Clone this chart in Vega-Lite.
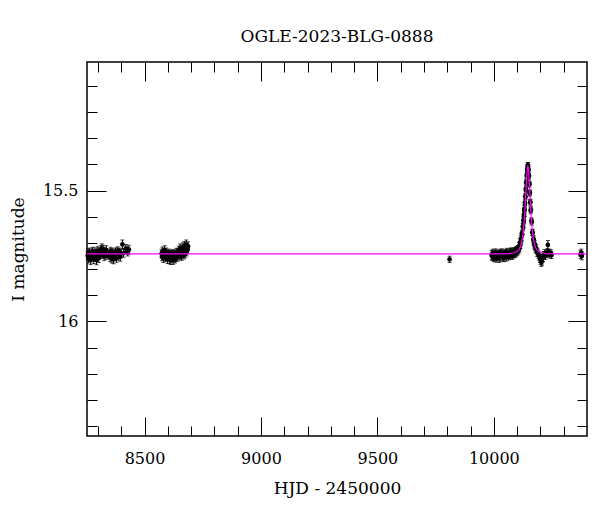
{
  "$schema": "https://vega.github.io/schema/vega-lite/v6.json",
  "width": 500,
  "height": 374,
  "autosize": {"type": "none"},
  "padding": {"left": 87, "top": 62, "right": 13, "bottom": 76},
  "background": "white",
  "title": {"text": "OGLE-2023-BLG-0888", "font": "DejaVu Serif", "fontSize": 17, "fontWeight": "normal", "color": "black", "anchor": "middle", "baseline": "alphabetic", "offset": 3},
  "config": {
    "view": {"stroke": "black", "strokeWidth": 1.5},
    "axis": {"grid": false, "domain": false, "labelFont": "DejaVu Serif", "titleFont": "DejaVu Serif", "labelColor": "black", "titleColor": "black", "tickColor": "black", "tickWidth": 1, "labelFontSize": 16, "titleFontSize": 17, "titleFontWeight": "normal"}
  },
  "datasets": {
    "obs": [
      {"t":8256,"m":15.749,"e":0.016},{"t":8258,"m":15.739,"e":0.015},{"t":8260,"m":15.760,"e":0.017},{"t":8262,"m":15.735,"e":0.015},{"t":8265,"m":15.753,"e":0.016},{"t":8267,"m":15.744,"e":0.015},{"t":8269,"m":15.765,"e":0.018},{"t":8272,"m":15.738,"e":0.015},{"t":8274,"m":15.756,"e":0.016},{"t":8277,"m":15.732,"e":0.015},{"t":8279,"m":15.751,"e":0.016},{"t":8282,"m":15.762,"e":0.017},{"t":8284,"m":15.742,"e":0.015},{"t":8287,"m":15.735,"e":0.016},{"t":8289,"m":15.755,"e":0.016},{"t":8292,"m":15.746,"e":0.015},{"t":8294,"m":15.766,"e":0.018},{"t":8297,"m":15.739,"e":0.015},{"t":8299,"m":15.731,"e":0.016},{"t":8302,"m":15.749,"e":0.015},{"t":8304,"m":15.758,"e":0.017},{"t":8307,"m":15.734,"e":0.015},{"t":8309,"m":15.745,"e":0.016},{"t":8312,"m":15.727,"e":0.016},{"t":8314,"m":15.742,"e":0.015},{"t":8317,"m":15.721,"e":0.017},{"t":8319,"m":15.737,"e":0.015},{"t":8322,"m":15.725,"e":0.016},{"t":8324,"m":15.745,"e":0.015},{"t":8327,"m":15.752,"e":0.016},{"t":8330,"m":15.732,"e":0.015},{"t":8333,"m":15.741,"e":0.016},{"t":8336,"m":15.728,"e":0.017},{"t":8339,"m":15.748,"e":0.015},
      {"t":8350,"m":15.739,"e":0.016},{"t":8352,"m":15.756,"e":0.016},{"t":8355,"m":15.732,"e":0.015},{"t":8357,"m":15.749,"e":0.016},{"t":8360,"m":15.760,"e":0.017},{"t":8362,"m":15.737,"e":0.015},{"t":8365,"m":15.745,"e":0.016},{"t":8367,"m":15.763,"e":0.017},{"t":8370,"m":15.741,"e":0.015},{"t":8372,"m":15.752,"e":0.016},{"t":8375,"m":15.734,"e":0.015},{"t":8377,"m":15.748,"e":0.016},{"t":8380,"m":15.758,"e":0.016},{"t":8382,"m":15.738,"e":0.015},{"t":8385,"m":15.731,"e":0.016},{"t":8387,"m":15.751,"e":0.015},{"t":8390,"m":15.744,"e":0.016},{"t":8393,"m":15.735,"e":0.015},{"t":8396,"m":15.753,"e":0.017},{"t":8399,"m":15.741,"e":0.016},{"t":8405,"m":15.706,"e":0.017},{"t":8410,"m":15.739,"e":0.016},{"t":8420,"m":15.722,"e":0.016},{"t":8424,"m":15.728,"e":0.015},{"t":8428,"m":15.734,"e":0.016},{"t":8433,"m":15.726,"e":0.017},
      {"t":8573,"m":15.741,"e":0.017},{"t":8575,"m":15.752,"e":0.016},{"t":8577,"m":15.732,"e":0.016},{"t":8579,"m":15.748,"e":0.017},{"t":8581,"m":15.759,"e":0.016},{"t":8583,"m":15.738,"e":0.015},{"t":8585,"m":15.749,"e":0.016},{"t":8587,"m":15.728,"e":0.017},{"t":8589,"m":15.745,"e":0.016},{"t":8591,"m":15.755,"e":0.016},{"t":8593,"m":15.735,"e":0.015},{"t":8595,"m":15.751,"e":0.016},{"t":8597,"m":15.742,"e":0.015},{"t":8599,"m":15.762,"e":0.017},{"t":8601,"m":15.746,"e":0.016},{"t":8603,"m":15.755,"e":0.016},{"t":8605,"m":15.739,"e":0.015},{"t":8607,"m":15.763,"e":0.017},{"t":8609,"m":15.751,"e":0.016},{"t":8611,"m":15.744,"e":0.015},{"t":8613,"m":15.766,"e":0.017},{"t":8615,"m":15.753,"e":0.016},{"t":8617,"m":15.746,"e":0.016},{"t":8619,"m":15.759,"e":0.015},{"t":8621,"m":15.741,"e":0.016},{"t":8623,"m":15.765,"e":0.017},{"t":8625,"m":15.749,"e":0.016},{"t":8627,"m":15.756,"e":0.016},{"t":8629,"m":15.744,"e":0.015},{"t":8631,"m":15.760,"e":0.017},{"t":8633,"m":15.748,"e":0.016},{"t":8635,"m":15.738,"e":0.015},{"t":8637,"m":15.755,"e":0.016},{"t":8639,"m":15.745,"e":0.016},{"t":8641,"m":15.735,"e":0.015},{"t":8643,"m":15.752,"e":0.017},{"t":8645,"m":15.741,"e":0.016},{"t":8647,"m":15.728,"e":0.016},{"t":8649,"m":15.748,"e":0.015},{"t":8651,"m":15.737,"e":0.016},{"t":8653,"m":15.721,"e":0.017},{"t":8655,"m":15.744,"e":0.016},{"t":8657,"m":15.732,"e":0.015},{"t":8659,"m":15.751,"e":0.016},{"t":8661,"m":15.725,"e":0.017},{"t":8663,"m":15.739,"e":0.016},{"t":8665,"m":15.717,"e":0.017},{"t":8667,"m":15.735,"e":0.015},{"t":8669,"m":15.746,"e":0.016},{"t":8671,"m":15.713,"e":0.018},{"t":8673,"m":15.731,"e":0.016},{"t":8675,"m":15.742,"e":0.015},{"t":8677,"m":15.721,"e":0.017},{"t":8679,"m":15.707,"e":0.018},{"t":8681,"m":15.734,"e":0.016},{"t":8683,"m":15.718,"e":0.017},{"t":8685,"m":15.725,"e":0.016},{"t":8687,"m":15.713,"e":0.017},
      {"t":9810,"m":15.763,"e":0.012},
      {"t":9990,"m":15.746,"e":0.017},{"t":9993,"m":15.752,"e":0.016},{"t":9995,"m":15.740,"e":0.016},{"t":9998,"m":15.749,"e":0.017},{"t":10000,"m":15.756,"e":0.016},{"t":10003,"m":15.743,"e":0.015},{"t":10005,"m":15.751,"e":0.016},{"t":10008,"m":15.738,"e":0.015},{"t":10010,"m":15.757,"e":0.017},{"t":10013,"m":15.746,"e":0.016},{"t":10015,"m":15.753,"e":0.016},{"t":10018,"m":15.742,"e":0.015},{"t":10020,"m":15.750,"e":0.016},{"t":10023,"m":15.758,"e":0.017},{"t":10025,"m":15.744,"e":0.015},{"t":10028,"m":15.740,"e":0.016},{"t":10030,"m":15.754,"e":0.016},{"t":10033,"m":15.747,"e":0.015},{"t":10035,"m":15.739,"e":0.016},{"t":10038,"m":15.752,"e":0.017},{"t":10040,"m":15.745,"e":0.015},{"t":10043,"m":15.756,"e":0.016},{"t":10045,"m":15.741,"e":0.015},{"t":10048,"m":15.749,"e":0.016},{"t":10050,"m":15.743,"e":0.015},{"t":10053,"m":15.753,"e":0.017},{"t":10055,"m":15.737,"e":0.016},{"t":10058,"m":15.747,"e":0.015},{"t":10060,"m":15.741,"e":0.016},{"t":10063,"m":15.750,"e":0.016},{"t":10065,"m":15.744,"e":0.015},{"t":10068,"m":15.738,"e":0.016},{"t":10070,"m":15.748,"e":0.015},{"t":10073,"m":15.735,"e":0.016},{"t":10075,"m":15.744,"e":0.015},{"t":10078,"m":15.739,"e":0.016},{"t":10080,"m":15.747,"e":0.016},{"t":10083,"m":15.736,"e":0.015},{"t":10085,"m":15.742,"e":0.016},{"t":10088,"m":15.733,"e":0.015},{"t":10090,"m":15.740,"e":0.016},{"t":10093,"m":15.731,"e":0.015},{"t":10095,"m":15.737,"e":0.016},{"t":10098,"m":15.729,"e":0.015},{"t":10101,"m":15.733,"e":0.016},{"t":10103,"m":15.725,"e":0.015},
      {"t":10106,"m":15.730,"e":0.013},{"t":10108,"m":15.712,"e":0.013},{"t":10110,"m":15.722,"e":0.013},{"t":10112,"m":15.698,"e":0.013},{"t":10114,"m":15.708,"e":0.013},{"t":10116,"m":15.684,"e":0.012},{"t":10118,"m":15.692,"e":0.012},{"t":10120,"m":15.664,"e":0.012},{"t":10122,"m":15.668,"e":0.012},{"t":10124,"m":15.638,"e":0.012},{"t":10126,"m":15.642,"e":0.012},{"t":10127,"m":15.614,"e":0.012},{"t":10128,"m":15.620,"e":0.012},{"t":10129,"m":15.592,"e":0.012},{"t":10130,"m":15.598,"e":0.012},{"t":10131,"m":15.570,"e":0.012},{"t":10132,"m":15.575,"e":0.011},{"t":10133,"m":15.547,"e":0.011},{"t":10134,"m":15.552,"e":0.011},{"t":10135,"m":15.522,"e":0.011},{"t":10136,"m":15.525,"e":0.011},{"t":10137,"m":15.494,"e":0.011},{"t":10138,"m":15.499,"e":0.011},{"t":10139,"m":15.468,"e":0.011},{"t":10140,"m":15.471,"e":0.011},{"t":10141,"m":15.441,"e":0.011},{"t":10142,"m":15.446,"e":0.011},{"t":10143,"m":15.420,"e":0.011},{"t":10144,"m":15.425,"e":0.011},{"t":10145,"m":15.405,"e":0.011},{"t":10146,"m":15.414,"e":0.011},{"t":10147,"m":15.404,"e":0.011},{"t":10148,"m":15.424,"e":0.011},{"t":10149,"m":15.419,"e":0.011},{"t":10150,"m":15.446,"e":0.011},{"t":10151,"m":15.444,"e":0.011},{"t":10152,"m":15.476,"e":0.011},{"t":10153,"m":15.475,"e":0.011},{"t":10154,"m":15.510,"e":0.011},{"t":10155,"m":15.509,"e":0.011},{"t":10156,"m":15.545,"e":0.011},{"t":10157,"m":15.544,"e":0.011},{"t":10158,"m":15.577,"e":0.012},{"t":10159,"m":15.573,"e":0.012},{"t":10161,"m":15.616,"e":0.012},{"t":10163,"m":15.620,"e":0.012},{"t":10165,"m":15.660,"e":0.012},{"t":10167,"m":15.661,"e":0.012},{"t":10169,"m":15.688,"e":0.012},{"t":10171,"m":15.686,"e":0.013},{"t":10173,"m":15.707,"e":0.013},{"t":10176,"m":15.705,"e":0.013},{"t":10179,"m":15.724,"e":0.013},{"t":10182,"m":15.720,"e":0.013},{"t":10185,"m":15.737,"e":0.014},
      {"t":10189,"m":15.738,"e":0.014},{"t":10192,"m":15.745,"e":0.014},{"t":10195,"m":15.752,"e":0.014},{"t":10198,"m":15.760,"e":0.015},{"t":10201,"m":15.768,"e":0.015},{"t":10204,"m":15.774,"e":0.016},{"t":10207,"m":15.770,"e":0.015},{"t":10210,"m":15.758,"e":0.015},{"t":10214,"m":15.747,"e":0.014},{"t":10218,"m":15.740,"e":0.014},{"t":10222,"m":15.749,"e":0.014},{"t":10226,"m":15.742,"e":0.014},{"t":10229,"m":15.736,"e":0.014},{"t":10232,"m":15.708,"e":0.017},{"t":10236,"m":15.738,"e":0.014},{"t":10240,"m":15.744,"e":0.014},{"t":10244,"m":15.739,"e":0.014},{"t":10248,"m":15.746,"e":0.014},
      {"t":10372,"m":15.745,"e":0.015},{"t":10375,"m":15.738,"e":0.014},{"t":10378,"m":15.750,"e":0.015}
    ],
    "model": [
      {"t":8253,"m":15.742},{"t":10040,"m":15.742},{"t":10070,"m":15.741},{"t":10086,"m":15.738},{"t":10096,"m":15.735},{"t":10106,"m":15.728},{"t":10111,"m":15.721},{"t":10116,"m":15.709},{"t":10121,"m":15.691},{"t":10125,"m":15.667},{"t":10128,"m":15.642},{"t":10131,"m":15.608},{"t":10133,"m":15.581},{"t":10135,"m":15.550},{"t":10137,"m":15.516},{"t":10139,"m":15.482},{"t":10140,"m":15.465},{"t":10141.5,"m":15.442},{"t":10143,"m":15.424},{"t":10144.5,"m":15.412},{"t":10146,"m":15.408},{"t":10147.5,"m":15.412},{"t":10149,"m":15.424},{"t":10150.5,"m":15.442},{"t":10152,"m":15.465},{"t":10153,"m":15.482},{"t":10155,"m":15.516},{"t":10157,"m":15.550},{"t":10159,"m":15.581},{"t":10161,"m":15.608},{"t":10164,"m":15.642},{"t":10167,"m":15.667},{"t":10171,"m":15.691},{"t":10176,"m":15.709},{"t":10181,"m":15.721},{"t":10186,"m":15.728},{"t":10196,"m":15.735},{"t":10206,"m":15.738},{"t":10222,"m":15.741},{"t":10252,"m":15.742},{"t":10400,"m":15.742}
    ]
  },
  "resolve": {"axis": {"x": "independent", "y": "independent"}},
  "layer": [
    {
      "data": {"name": "obs"},
      "mark": {"type": "errorbar", "color": "black", "thickness": 1, "ticks": {"size": 4, "color": "black"}},
      "encoding": {
        "x": {"field": "t", "type": "quantitative", "scale": {"domain": [8253, 10400], "nice": false, "zero": false},
              "axis": {"orient": "bottom", "values": [8300,8400,8500,8600,8700,8800,8900,9000,9100,9200,9300,9400,9500,9600,9700,9800,9900,10000,10100,10200,10300], "labels": false, "title": null, "tickSize": {"condition": {"test": "datum.value % 500 === 0", "value": -19}, "value": -10}}},
        "y": {"field": "m", "type": "quantitative", "scale": {"domain": [15.009, 16.438], "reverse": true, "nice": false, "zero": false},
              "axis": {"orient": "left", "values": [15.1,15.2,15.3,15.4,15.5,15.6,15.7,15.8,15.9,16,16.1,16.2,16.3,16.4], "labels": false, "title": null, "tickSize": {"condition": {"test": "datum.value === 15.5 || datum.value === 16", "value": -19}, "value": -10}}},
        "yError": {"field": "e"}
      }
    },
    {
      "data": {"name": "obs"},
      "mark": {"type": "circle", "size": 22, "color": "black", "opacity": 1},
      "encoding": {
        "x": {"field": "t", "type": "quantitative", "scale": {"domain": [8253, 10400], "nice": false, "zero": false},
              "axis": {"orient": "bottom", "values": [8500, 9000, 9500, 10000], "format": "d", "ticks": false, "labelPadding": 14, "labelFlush": false, "title": "HJD - 2450000", "titlePadding": 14}},
        "y": {"field": "m", "type": "quantitative", "scale": {"domain": [15.009, 16.438], "reverse": true, "nice": false, "zero": false},
              "axis": {"orient": "left", "values": [15.5, 16], "labelExpr": "datum.value === 16 ? '16' : '15.5'", "ticks": false, "labelPadding": 9, "labelFlush": false, "title": "I magnitude", "titlePadding": 15}}
      }
    },
    {
      "data": {"name": "model"},
      "mark": {"type": "line", "color": "#ff00ff", "strokeWidth": 1.2},
      "encoding": {
        "x": {"field": "t", "type": "quantitative", "scale": {"domain": [8253, 10400], "nice": false, "zero": false},
              "axis": {"orient": "top", "values": [8300,8400,8500,8600,8700,8800,8900,9000,9100,9200,9300,9400,9500,9600,9700,9800,9900,10000,10100,10200,10300], "labels": false, "title": null, "tickSize": {"condition": {"test": "datum.value % 500 === 0", "value": -19}, "value": -10}}},
        "y": {"field": "m", "type": "quantitative", "scale": {"domain": [15.009, 16.438], "reverse": true, "nice": false, "zero": false},
              "axis": {"orient": "right", "values": [15.1,15.2,15.3,15.4,15.5,15.6,15.7,15.8,15.9,16,16.1,16.2,16.3,16.4], "labels": false, "title": null, "tickSize": {"condition": {"test": "datum.value === 15.5 || datum.value === 16", "value": -19}, "value": -10}}}
      }
    }
  ]
}
